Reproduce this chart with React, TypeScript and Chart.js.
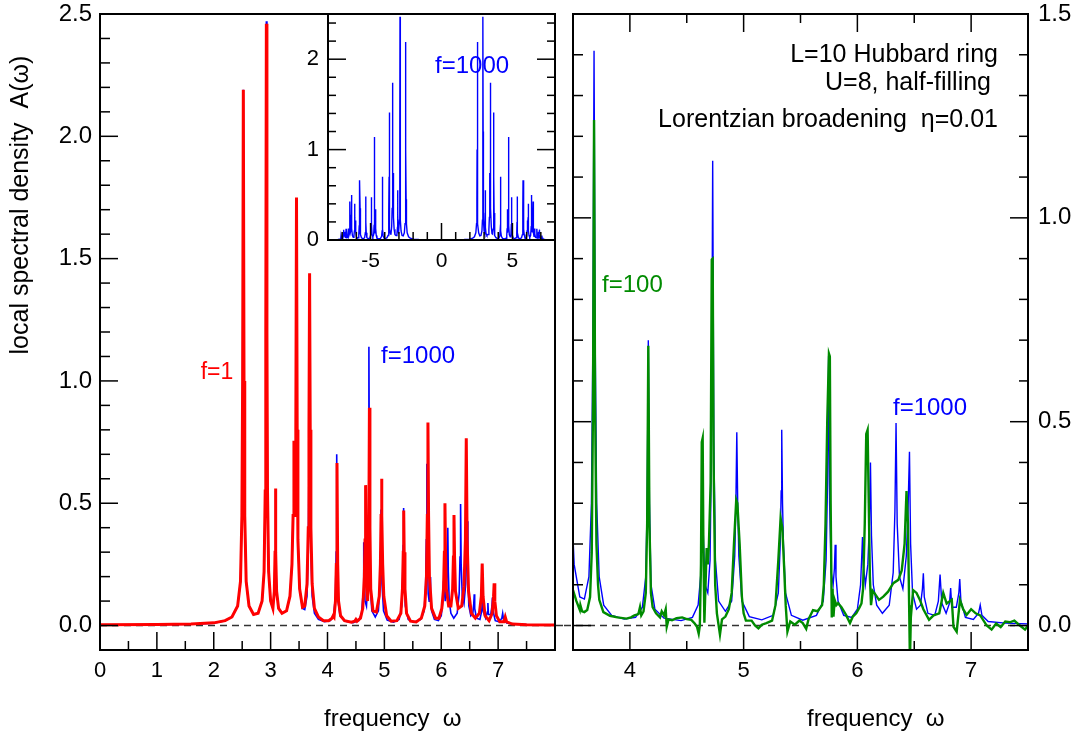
import { useEffect, useRef } from "react";
import { Chart, registerables } from "chart.js";

Chart.register(...registerables);

type Pt = [number, number];

// ---------- data: [omega, A(omega)] ----------
const redF1: Pt[] = [
  [0, 0.003], [1, 0.004], [1.6, 0.006], [2.0, 0.011], [2.2, 0.02], [2.32, 0.035], [2.42, 0.08], [2.47, 0.18],
  [2.495, 0.45], [2.508, 1.0], [2.52, 2.19], [2.532, 1.0], [2.545, 0.45], [2.57, 0.18], [2.62, 0.08], [2.7, 0.045],
  [2.78, 0.05], [2.85, 0.1], [2.885, 0.22], [2.905, 0.55], [2.915, 1.2], [2.925, 2.46], [2.935, 1.2], [2.945, 0.55],
  [2.965, 0.22], [3.0, 0.1], [3.04, 0.07], [3.065, 0.14], [3.078, 0.3], [3.085, 0.56], [3.092, 0.3], [3.105, 0.14],
  [3.14, 0.07], [3.2, 0.05], [3.28, 0.06], [3.34, 0.12], [3.375, 0.25], [3.395, 0.45], [3.41, 0.755], [3.42, 0.5],
  [3.43, 0.45], [3.443, 0.8], [3.455, 1.75], [3.467, 0.8], [3.48, 0.35], [3.51, 0.15], [3.56, 0.075], [3.6, 0.08],
  [3.64, 0.17], [3.662, 0.4], [3.674, 0.8], [3.685, 1.44], [3.696, 0.8], [3.708, 0.4], [3.73, 0.17], [3.77, 0.07],
  [3.84, 0.035], [3.93, 0.02], [4.02, 0.02], [4.08, 0.03], [4.1, 0.04], [4.115, 0.035], [4.14, 0.1], [4.155, 0.25],
  [4.167, 0.664], [4.179, 0.25], [4.194, 0.1], [4.23, 0.04], [4.3, 0.02], [4.42, 0.014], [4.48, 0.018], [4.5, 0.025],
  [4.52, 0.018], [4.58, 0.03], [4.62, 0.07], [4.648, 0.2], [4.66, 0.35], [4.67, 0.574], [4.68, 0.3], [4.695, 0.12],
  [4.705, 0.1], [4.718, 0.2], [4.728, 0.45], [4.737, 0.89], [4.746, 0.4], [4.76, 0.15], [4.8, 0.06], [4.86, 0.055],
  [4.91, 0.12], [4.93, 0.25], [4.942, 0.45], [4.95, 0.6], [4.958, 0.45], [4.97, 0.25], [4.99, 0.12], [5.04, 0.04],
  [5.12, 0.018], [5.22, 0.02], [5.29, 0.05], [5.318, 0.15], [5.332, 0.3], [5.34, 0.47], [5.348, 0.3], [5.362, 0.15],
  [5.39, 0.05], [5.46, 0.018], [5.56, 0.015], [5.65, 0.03], [5.71, 0.08], [5.74, 0.2], [5.755, 0.45], [5.766, 0.83],
  [5.777, 0.45], [5.792, 0.2], [5.83, 0.07], [5.9, 0.03], [5.96, 0.03], [6.01, 0.07], [6.04, 0.15], [6.055, 0.3],
  [6.065, 0.5], [6.075, 0.3], [6.09, 0.15], [6.13, 0.08], [6.17, 0.08], [6.2, 0.15], [6.214, 0.28], [6.224, 0.452],
  [6.234, 0.28], [6.25, 0.14], [6.3, 0.07], [6.36, 0.08], [6.4, 0.16], [6.425, 0.35], [6.44, 0.766], [6.455, 0.35],
  [6.48, 0.14], [6.53, 0.05], [6.6, 0.03], [6.67, 0.05], [6.705, 0.12], [6.72, 0.253], [6.735, 0.12], [6.77, 0.04],
  [6.84, 0.02], [6.895, 0.05], [6.92, 0.12], [6.93, 0.173], [6.942, 0.1], [6.97, 0.04], [7.03, 0.015], [7.1, 0.015],
  [7.125, 0.035], [7.15, 0.015], [7.25, 0.006], [7.5, 0.003], [8, 0.002],
];

const blueF1000: Pt[] = [
  [0, 0.002], [1.6, 0.005], [2.0, 0.01], [2.2, 0.02], [2.32, 0.035], [2.42, 0.08], [2.47, 0.18], [2.495, 0.45],
  [2.508, 1.0], [2.52, 2.19], [2.532, 1.0], [2.545, 0.45], [2.57, 0.18], [2.62, 0.08], [2.7, 0.045], [2.78, 0.05],
  [2.85, 0.1], [2.885, 0.22], [2.905, 0.55], [2.915, 1.2], [2.925, 2.47], [2.935, 1.2], [2.945, 0.55], [2.965, 0.22],
  [3.0, 0.1], [3.04, 0.07], [3.065, 0.14], [3.078, 0.3], [3.085, 0.55], [3.092, 0.3], [3.105, 0.14], [3.14, 0.07],
  [3.2, 0.05], [3.28, 0.06], [3.34, 0.12], [3.375, 0.25], [3.395, 0.45], [3.41, 0.74], [3.42, 0.5], [3.43, 0.45],
  [3.443, 0.8], [3.455, 1.74], [3.467, 0.8], [3.48, 0.35], [3.51, 0.15], [3.56, 0.07], [3.6, 0.065], [3.64, 0.12],
  [3.662, 0.3], [3.675, 0.7], [3.685, 1.41], [3.695, 0.7], [3.708, 0.3], [3.73, 0.12], [3.77, 0.05], [3.84, 0.025],
  [3.95, 0.016], [4.05, 0.02], [4.11, 0.045], [4.14, 0.12], [4.152, 0.3], [4.162, 0.7], [4.172, 0.3], [4.186, 0.1],
  [4.22, 0.04], [4.3, 0.018], [4.45, 0.012], [4.55, 0.02], [4.6, 0.05], [4.625, 0.13], [4.634, 0.25], [4.64, 0.34],
  [4.646, 0.22], [4.66, 0.1], [4.685, 0.08], [4.705, 0.16], [4.718, 0.45], [4.728, 1.14], [4.738, 0.45], [4.752, 0.16],
  [4.78, 0.06], [4.84, 0.035], [4.895, 0.06], [4.922, 0.17], [4.932, 0.3], [4.94, 0.474], [4.948, 0.3], [4.958, 0.17],
  [4.985, 0.06], [5.05, 0.022], [5.16, 0.014], [5.26, 0.025], [5.305, 0.08], [5.322, 0.2], [5.33, 0.33], [5.335, 0.48],
  [5.342, 0.3], [5.35, 0.2], [5.368, 0.08], [5.42, 0.025], [5.52, 0.013], [5.64, 0.025], [5.7, 0.06], [5.725, 0.16],
  [5.738, 0.35], [5.747, 0.661], [5.756, 0.3], [5.77, 0.13], [5.787, 0.1], [5.798, 0.14], [5.805, 0.198], [5.812, 0.12],
  [5.83, 0.06], [5.88, 0.025], [5.95, 0.02], [6.0, 0.04], [6.028, 0.1], [6.04, 0.18], [6.045, 0.217], [6.052, 0.15],
  [6.07, 0.1], [6.092, 0.15], [6.106, 0.25], [6.115, 0.4], [6.124, 0.22], [6.14, 0.1], [6.17, 0.05], [6.22, 0.03],
  [6.28, 0.05], [6.315, 0.13], [6.33, 0.28], [6.34, 0.497], [6.35, 0.25], [6.37, 0.12], [6.4, 0.09], [6.43, 0.17],
  [6.445, 0.28], [6.458, 0.426], [6.468, 0.2], [6.485, 0.08], [6.52, 0.04], [6.555, 0.05], [6.572, 0.09], [6.58, 0.128],
  [6.588, 0.07], [6.62, 0.03], [6.68, 0.025], [6.712, 0.06], [6.727, 0.125], [6.742, 0.055], [6.78, 0.03], [6.81, 0.055],
  [6.82, 0.092], [6.83, 0.045], [6.87, 0.045], [6.892, 0.08], [6.9, 0.114], [6.91, 0.06], [6.95, 0.02], [7.02, 0.015],
  [7.065, 0.03], [7.08, 0.05], [7.095, 0.025], [7.15, 0.01], [7.3, 0.006], [7.5, 0.004], [8, 0.002],
];

const greenF100: Pt[] = [
  [3.5, 0.087], [3.53, 0.06], [3.56, 0.038], [3.565, 0.05], [3.58, 0.035], [3.6, 0.033], [3.625, 0.038], [3.65, 0.07],
  [3.665, 0.18], [3.676, 0.55], [3.685, 1.24], [3.694, 0.55], [3.706, 0.2], [3.72, 0.1], [3.731, 0.063], [3.767, 0.033],
  [3.825, 0.024], [3.89, 0.02], [3.97, 0.017], [4.01, 0.02], [4.04, 0.025], [4.075, 0.028], [4.089, 0.045], [4.1, 0.025],
  [4.12, 0.035], [4.14, 0.08], [4.152, 0.25], [4.162, 0.686], [4.172, 0.25], [4.185, 0.08], [4.2, 0.045], [4.23, 0.03],
  [4.265, 0.02], [4.28, 0.035], [4.3, 0.025], [4.315, 0.04], [4.324, -0.003], [4.34, 0.015], [4.37, 0.013], [4.41, 0.018],
  [4.46, 0.02], [4.5, 0.016], [4.54, 0.014], [4.57, 0.005], [4.59, -0.003], [4.605, -0.02], [4.615, 0.0], [4.625, 0.15],
  [4.632, 0.45], [4.64, 0.46], [4.646, 0.2], [4.655, 0.007], [4.66, 0.007], [4.675, 0.19], [4.685, 0.15], [4.695, 0.2],
  [4.71, 0.35], [4.72, 0.898], [4.728, 0.9], [4.736, 0.4], [4.75, 0.1], [4.765, 0.03], [4.792, -0.022], [4.81, 0.015],
  [4.84, 0.022], [4.87, 0.04], [4.895, 0.08], [4.915, 0.2], [4.935, 0.308], [4.945, 0.3], [4.965, 0.2], [4.985, 0.07],
  [5.0, 0.03], [5.02, 0.012], [5.07, 0.012], [5.1, 0.0], [5.13, -0.007], [5.16, 0.002], [5.2, 0.006], [5.25, 0.012],
  [5.28, 0.05], [5.305, 0.16], [5.325, 0.263], [5.34, 0.24], [5.355, 0.15], [5.37, 0.05], [5.385, -0.015], [5.41, 0.01],
  [5.45, 0.002], [5.49, 0.012], [5.52, 0.006], [5.55, -0.008], [5.57, 0.015], [5.61, 0.038], [5.65, 0.035], [5.69, 0.05],
  [5.705, 0.1], [5.72, 0.25], [5.735, 0.5], [5.75, 0.667], [5.758, 0.66], [5.765, 0.3], [5.775, 0.02], [5.782, 0.09],
  [5.79, 0.022], [5.8, 0.063], [5.815, 0.05], [5.83, 0.055], [5.86, 0.045], [5.9, 0.026], [5.935, 0.006], [5.96, 0.022],
  [5.99, 0.03], [6.02, 0.045], [6.036, 0.054], [6.05, 0.09], [6.065, 0.25], [6.078, 0.47], [6.09, 0.48], [6.1, 0.3],
  [6.11, 0.12], [6.12, 0.05], [6.135, 0.085], [6.152, 0.079], [6.19, 0.063], [6.228, 0.071], [6.27, 0.083], [6.316, 0.104],
  [6.36, 0.112], [6.39, 0.135], [6.415, 0.2], [6.432, 0.33], [6.445, 0.25], [6.455, 0.05], [6.462, -0.09], [6.47, 0.02],
  [6.49, 0.087], [6.52, 0.08], [6.55, 0.063], [6.58, 0.04], [6.63, 0.014], [6.67, 0.025], [6.72, 0.03], [6.755, 0.08],
  [6.785, 0.054], [6.83, 0.063], [6.845, -0.003], [6.873, -0.015], [6.902, 0.063], [6.93, 0.04], [6.96, 0.026], [7.0, 0.04],
  [7.04, 0.03], [7.08, 0.025], [7.137, 0.0], [7.18, -0.01], [7.22, 0.005], [7.26, -0.004], [7.3, 0.01], [7.34, 0.008],
  [7.38, 0.012], [7.42, 0.002], [7.474, -0.01], [7.5, 0.0],
];

// ---------- tick labels ----------
const leftXLabels = [0, 1, 2, 3, 4, 5, 6, 7];
const leftYLabels = [0, 0.5, 1, 1.5, 2, 2.5];
const rightXLabels = [4, 5, 6, 7];
const rightYLabels = [0, 0.5, 1, 1.5];
const insetXLabels = [-5, 0, 5];
const insetYLabels = [0, 1, 2];

const FONT = "'Liberation Sans', Arial, Helvetica, sans-serif";
const RED = "#ff0000";
const BLUE = "#0000ff";
const GREEN = "#008b00";
const W = 1078;
const H = 733;

function steps(from: number, to: number, step: number, skip: number[] = []): number[] {
  const out: number[] = [];
  const n = Math.round((to - from) / step);
  for (let i = 0; i <= n; i++) {
    const v = +(from + i * step).toFixed(6);
    if (!skip.some((s) => Math.abs(s - v) < 1e-6)) out.push(v);
  }
  return out;
}

const xy = (pts: Pt[]) => pts.map(([x, y]) => ({ x, y }));
const mirrored = (pts: Pt[]) => pts.slice().reverse().map(([x, y]) => ({ x: -x, y }));

const framePlugin = {
  id: "frame",
  beforeDatasetsDraw(chart: any, _a: any, opts: any) {
    const { ctx, chartArea: a, scales } = chart;
    if (opts.background) {
      ctx.save();
      ctx.fillStyle = opts.background;
      ctx.fillRect(a.left, a.top, a.right - a.left, a.bottom - a.top);
      ctx.restore();
    }
    if (opts.zeroLine) {
      const y = scales.y.getPixelForValue(0);
      ctx.save();
      ctx.strokeStyle = "#333";
      ctx.lineWidth = 1.5;
      ctx.setLineDash([7, 5]);
      ctx.beginPath();
      ctx.moveTo(a.left - opts.zeroLine[0], y);
      ctx.lineTo(a.right + opts.zeroLine[1], y);
      ctx.stroke();
      ctx.restore();
    }
  },
  afterDatasetsDraw(chart: any, _a: any, opts: any) {
    const { ctx, chartArea: a, scales } = chart;
    ctx.save();
    ctx.strokeStyle = "#000";
    ctx.lineWidth = 1.5;
    ctx.setLineDash([]);
    for (const t of opts.ticks || []) {
      const sc = t.axis === "x" ? scales.x : scales.y;
      for (const v of t.values) {
        const p = sc.getPixelForValue(v);
        ctx.beginPath();
        if (t.side === "bottom") { ctx.moveTo(p, a.bottom); ctx.lineTo(p, a.bottom - t.len); }
        else if (t.side === "top") { ctx.moveTo(p, a.top); ctx.lineTo(p, a.top + t.len); }
        else if (t.side === "left") { ctx.moveTo(a.left, p); ctx.lineTo(a.left + t.len, p); }
        else { ctx.moveTo(a.right, p); ctx.lineTo(a.right - t.len, p); }
        ctx.stroke();
      }
    }
    ctx.lineWidth = 2;
    ctx.strokeRect(a.left, a.top, a.right - a.left, a.bottom - a.top);
    ctx.restore();
  },
};

const textPlugin = {
  id: "texts",
  afterDraw(chart: any, _a: any, opts: any) {
    const { ctx, scales } = chart;
    for (const it of opts.items || []) {
      const px = scales.x.getPixelForValue(it.x);
      const py = scales.y.getPixelForValue(it.y);
      ctx.save();
      ctx.font = `${it.size || 24}px ${FONT}`;
      ctx.fillStyle = it.color || "#000";
      ctx.textAlign = it.align || "left";
      ctx.textBaseline = "alphabetic";
      ctx.translate(px, py);
      if (it.rotate) ctx.rotate(it.rotate);
      ctx.fillText(it.text, 0, 0);
      ctx.restore();
    }
  },
};

function axis(o: {
  min: number; max: number; position: string; labels: number[]; size: number; font: number; pad: number;
  fmt: (v: number) => string; horizontal: boolean;
}) {
  return {
    type: "linear",
    position: o.position,
    min: o.min,
    max: o.max,
    grid: { display: false, drawTicks: false },
    border: { display: false },
    ticks: {
      color: "#000",
      font: { family: FONT, size: o.font },
      padding: o.pad,
      maxRotation: 0,
      autoSkip: false,
      callback: (v: any) => o.fmt(Number(v)),
    },
    afterBuildTicks: (s: any) => { s.ticks = o.labels.map((value) => ({ value })); },
    afterFit: (s: any) => {
      if (o.horizontal) s.height = o.size; else s.width = o.size;
      s.paddingLeft = 0; s.paddingRight = 0; s.paddingTop = 0; s.paddingBottom = 0;
    },
  };
}

const one = (v: number) => v.toFixed(1);
const int = (v: number) => String(v);

function baseOptions(padding: any) {
  return {
    responsive: false,
    animation: false,
    devicePixelRatio: 1,
    events: [],
    layout: { padding, autoPadding: false },
    elements: { point: { radius: 0 }, line: { tension: 0 } },
  };
}

function leftConfig(): any {
  return {
    type: "line",
    data: {
      datasets: [
        { data: xy(redF1), borderColor: RED, borderWidth: 3, pointRadius: 0, order: 0, fill: false },
        { data: xy(blueF1000), borderColor: BLUE, borderWidth: 1.6, pointRadius: 0, order: 1, fill: false },
      ],
    },
    options: {
      ...baseOptions({ left: 0, top: 14, right: W - 555, bottom: 0 }),
      scales: {
        x: axis({ min: 0, max: 8, position: "bottom", labels: leftXLabels, size: 83, font: 22, pad: 8, fmt: int, horizontal: true }),
        y: axis({ min: -0.1, max: 2.5, position: "left", labels: leftYLabels, size: 100, font: 24, pad: 8, fmt: one, horizontal: false }),
      },
      plugins: {
        legend: { display: false },
        tooltip: { enabled: false },
        frame: {
          zeroLine: [0, 9],
          ticks: [
            { axis: "y", side: "left", values: leftYLabels.slice(0, 5), len: 18 },
            { axis: "y", side: "left", values: steps(0.1, 2.4, 0.1, leftYLabels), len: 10 },
            { axis: "x", side: "bottom", values: steps(1, 7, 1), len: 18 },
            { axis: "x", side: "bottom", values: steps(0.5, 7.5, 1), len: 9 },
          ],
        },
        texts: {
          items: [
            { text: "local spectral density  A(\u03c9)", x: -1.266, y: 1.719, size: 25, align: "center", rotate: -Math.PI / 2 },
            { text: "frequency  \u03c9", x: 3.94, y: -0.411, size: 24 },
            { text: "f=1", x: 1.77, y: 1.008, size: 23, color: RED },
            { text: "f=1000", x: 4.941, y: 1.073, size: 24, color: BLUE },
          ],
        },
      },
    },
    plugins: [framePlugin, textPlugin],
  };
}

function rightConfig(): any {
  return {
    type: "line",
    data: {
      datasets: [
        { data: xy(greenF100), borderColor: GREEN, borderWidth: 2.4, pointRadius: 0, order: 0, fill: false },
        { data: xy(blueF1000), borderColor: BLUE, borderWidth: 1.4, pointRadius: 0, order: 1, fill: false },
      ],
    },
    options: {
      ...baseOptions({ left: 573, top: 14, right: 0, bottom: 0 }),
      scales: {
        x: axis({ min: 3.5, max: 7.5, position: "bottom", labels: rightXLabels, size: 83, font: 22, pad: 8, fmt: int, horizontal: true }),
        y: axis({ min: -0.06, max: 1.5, position: "right", labels: rightYLabels, size: 50, font: 24, pad: 10, fmt: one, horizontal: false }),
      },
      plugins: {
        legend: { display: false },
        tooltip: { enabled: false },
        frame: {
          zeroLine: [9, 2],
          ticks: [
            { axis: "y", side: "left", values: [0, 0.5, 1], len: 18 },
            { axis: "y", side: "left", values: steps(0.1, 1.4, 0.1, [0.5, 1]), len: 10 },
            { axis: "y", side: "right", values: [0, 0.5, 1], len: 18 },
            { axis: "y", side: "right", values: steps(0.1, 1.4, 0.1, [0.5, 1]), len: 9 },
            { axis: "x", side: "bottom", values: rightXLabels, len: 18 },
            { axis: "x", side: "bottom", values: [4.5, 5.5, 6.5], len: 9 },
            { axis: "x", side: "top", values: rightXLabels, len: 18 },
            { axis: "x", side: "top", values: [4.5, 5.5, 6.5], len: 9 },
          ],
        },
        texts: {
          items: [
            { text: "frequency  \u03c9", x: 5.557, y: -0.246, size: 24 },
            { text: "f=100", x: 3.755, y: 0.819, size: 24, color: GREEN },
            { text: "f=1000", x: 6.313, y: 0.516, size: 24, color: BLUE },
            { text: "L=10 Hubbard ring", x: 7.236, y: 1.382, size: 25, align: "right" },
            { text: "U=8, half-filling ", x: 7.236, y: 1.313, size: 25, align: "right" },
            { text: "Lorentzian broadening  \u03b7=0.01", x: 7.236, y: 1.223, size: 25, align: "right" },
          ],
        },
      },
    },
    plugins: [framePlugin, textPlugin],
  };
}

function insetConfig(): any {
  return {
    type: "line",
    data: {
      datasets: [
        { data: [...mirrored(blueF1000), ...xy(blueF1000)], borderColor: BLUE, borderWidth: 1.4, pointRadius: 0, fill: false },
      ],
    },
    options: {
      ...baseOptions({ left: 288, top: 14, right: W - 555, bottom: H - 240 - 40 }),
      scales: {
        x: axis({ min: -8, max: 8, position: "bottom", labels: insetXLabels, size: 40, font: 21, pad: 9, fmt: int, horizontal: true }),
        y: axis({ min: 0, max: 2.5, position: "left", labels: insetYLabels, size: 40, font: 22, pad: 9, fmt: int, horizontal: false }),
      },
      plugins: {
        legend: { display: false },
        tooltip: { enabled: false },
        frame: {
          background: "#ffffff",
          ticks: [
            { axis: "y", side: "left", values: [1, 2], len: 18 },
            { axis: "y", side: "left", values: steps(0.2, 2.4, 0.2, [1, 2]), len: 8 },
            { axis: "y", side: "right", values: [1, 2], len: 18 },
            { axis: "y", side: "right", values: steps(0.2, 2.4, 0.2, [1, 2]), len: 8 },
            { axis: "x", side: "bottom", values: insetXLabels, len: 17 },
            { axis: "x", side: "bottom", values: steps(-7, 7, 1, insetXLabels), len: 8 },
          ],
        },
        texts: {
          items: [{ text: "f=1000", x: -0.458, y: 1.847, size: 24, color: BLUE }],
        },
      },
    },
    plugins: [framePlugin, textPlugin],
  };
}

export default function App() {
  const leftRef = useRef<HTMLCanvasElement>(null);
  const rightRef = useRef<HTMLCanvasElement>(null);
  const insetRef = useRef<HTMLCanvasElement>(null);

  useEffect(() => {
    const charts = [
      new Chart(leftRef.current as HTMLCanvasElement, leftConfig()),
      new Chart(rightRef.current as HTMLCanvasElement, rightConfig()),
      new Chart(insetRef.current as HTMLCanvasElement, insetConfig()),
    ];
    return () => charts.forEach((c) => c.destroy());
  }, []);

  const cs: any = { position: "absolute", left: 0, top: 0, width: W, height: H };
  return (
    <div style={{ position: "fixed", left: 0, top: 0, width: W, height: H, background: "#fff" }}>
      <canvas ref={leftRef} width={W} height={H} style={cs} />
      <canvas ref={rightRef} width={W} height={H} style={cs} />
      <canvas ref={insetRef} width={W} height={H} style={cs} />
    </div>
  );
}
